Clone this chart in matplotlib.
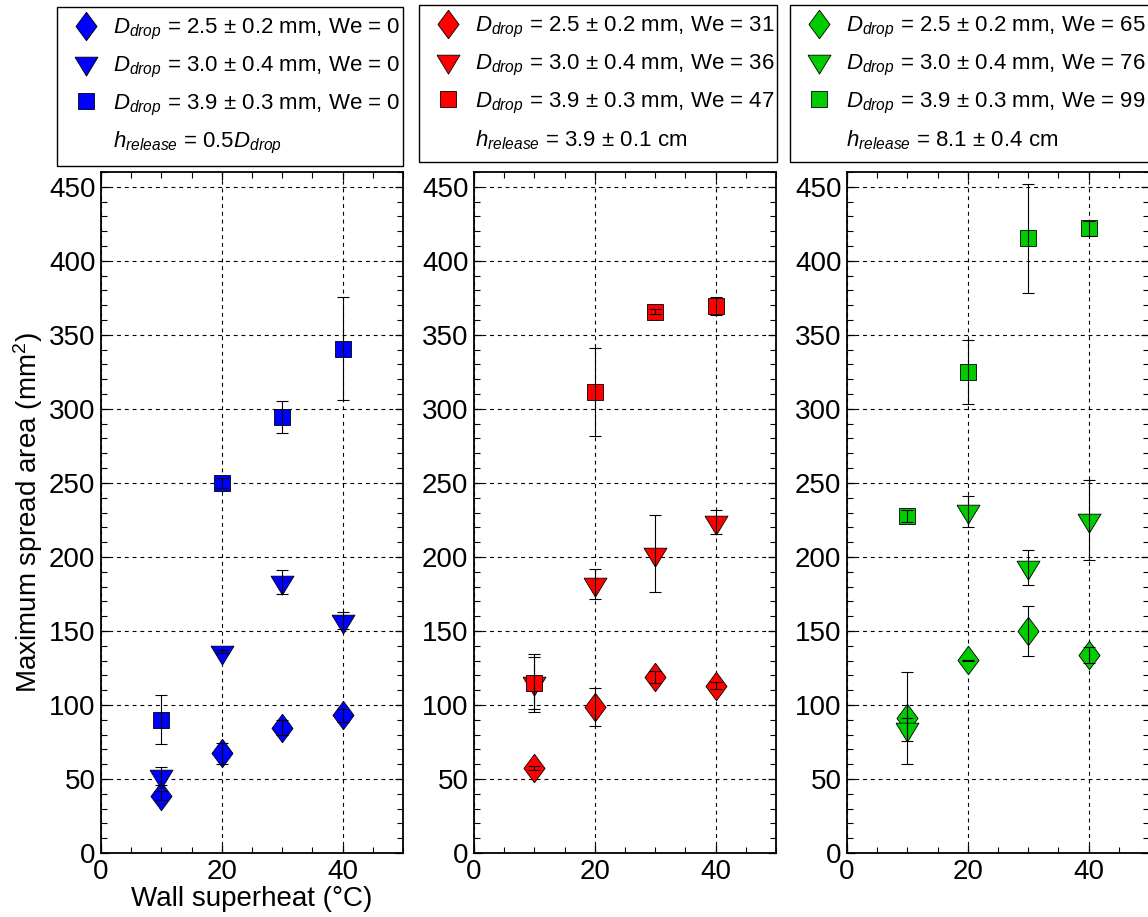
import matplotlib
matplotlib.use("Agg")
import matplotlib.pyplot as plt
from matplotlib.lines import Line2D
from matplotlib.ticker import MultipleLocator

plt.rcParams['font.family'] = ['Liberation Sans', 'DejaVu Sans']
plt.rcParams['mathtext.fontset'] = 'custom'
plt.rcParams['mathtext.rm'] = 'Liberation Sans'
plt.rcParams['mathtext.it'] = 'Liberation Sans:italic'
plt.rcParams['mathtext.bf'] = 'Liberation Sans:bold'

# ---------------- data ----------------
superheat = [10, 20, 30, 40]

# panel 1 (We = 0, blue)
blue_diamond = [38.7, 67.3, 84.6, 93.0]
blue_diamond_err = [3.0, 7.0, 5.0, 4.5]
blue_tri = [52.0, 136.0, 183.0, 157.0]
blue_tri_err = [6.0, 1.0, 8.0, 6.0]
blue_sq = [90.0, 250.0, 294.5, 340.7]
blue_sq_err = [16.4, 3.4, 10.7, 34.6]

# panel 2 (h = 3.9 cm, red)
red_diamond = [57.5, 98.7, 119.0, 112.9]
red_diamond_err = [1.2, 13.0, 4.0, 2.3]
red_tri = [115.0, 181.5, 202.0, 223.5]
red_tri_err = [19.5, 10.0, 26.0, 8.0]
red_sq = [115.0, 311.7, 365.7, 369.3]
red_sq_err = [17.7, 29.7, 1.9, 6.0]

# panel 3 (h = 8.1 cm, green)
green_diamond = [91.0, 130.2, 150.0, 133.6]
green_diamond_err = [31.0, 0.5, 17.0, 5.5]
green_tri = [83.5, 230.8, 193.0, 225.0]
green_tri_err = [8.0, 10.5, 12.0, 27.0]
green_sq = [227.4, 324.8, 415.2, 422.0]
green_sq_err = [4.0, 21.5, 37.0, 5.0]

labels_blue = [r'$D_{drop}$ = 2.5 ± 0.2 mm, We = 0',
               r'$D_{drop}$ = 3.0 ± 0.4 mm, We = 0',
               r'$D_{drop}$ = 3.9 ± 0.3 mm, We = 0',
               r'$h_{release}$ = 0.5$D_{drop}$']
labels_red = [r'$D_{drop}$ = 2.5 ± 0.2 mm, We = 31',
              r'$D_{drop}$ = 3.0 ± 0.4 mm, We = 36',
              r'$D_{drop}$ = 3.9 ± 0.3 mm, We = 47',
              r'$h_{release}$ = 3.9 ± 0.1 cm']
labels_green = [r'$D_{drop}$ = 2.5 ± 0.2 mm, We = 65',
                r'$D_{drop}$ = 3.0 ± 0.4 mm, We = 76',
                r'$D_{drop}$ = 3.9 ± 0.3 mm, We = 99',
                r'$h_{release}$ = 8.1 ± 0.4 cm']

BLUE = '#0000ff'
RED = '#ff0000'
GREEN = '#00cc00'

# ---------------- markers ----------------
DIAMOND = [(0, 1), (0.74, 0), (0, -1), (-0.74, 0), (0, 1)]
TRIANGLE = [(-1, 0.55), (1, 0.55), (0, -1.1), (-1, 0.55)]
MS_D, MS_T, MS_S = 20.5, 18.2, 11.8

W, H = 1148, 917
fig = plt.figure(figsize=(W / 100, H / 100), dpi=100)

ax_top, ax_bot = 172, 853
ax_w = 302
lefts = [101, 474, 847]
leg_boxes = [(57, 7, 346), (419, 5, 358), (790, 5, 372)]

panels = [
    (BLUE, (blue_diamond, blue_diamond_err), (blue_tri, blue_tri_err), (blue_sq, blue_sq_err), labels_blue),
    (RED, (red_diamond, red_diamond_err), (red_tri, red_tri_err), (red_sq, red_sq_err), labels_red),
    (GREEN, (green_diamond, green_diamond_err), (green_tri, green_tri_err), (green_sq, green_sq_err), labels_green),
]

FS = 20
for i, (color, dia, tri, sq, labels) in enumerate(panels):
    left = lefts[i]
    ax = fig.add_axes([left / W, 1 - ax_bot / H, ax_w / W, (ax_bot - ax_top) / H])
    ax.set_xlim(0, 50)
    ax.set_ylim(0, 460)
    ax.xaxis.set_major_locator(MultipleLocator(20))
    ax.xaxis.set_minor_locator(MultipleLocator(5))
    ax.yaxis.set_major_locator(MultipleLocator(50))
    ax.yaxis.set_minor_locator(MultipleLocator(10))
    ax.tick_params(which='both', direction='in', top=True, right=True, labelsize=FS, pad=4)
    ax.tick_params(which='major', length=6, width=0.9)
    ax.tick_params(which='minor', length=4, width=0.8)
    ax.grid(True, which='major', color='black', linestyle=(0, (3.5, 3.5)), linewidth=0.8)
    ax.set_axisbelow(True)
    for s in ax.spines.values():
        s.set_linewidth(1.3)

    for (vals, errs), mk, ms in ((dia, DIAMOND, MS_D), (tri, TRIANGLE, MS_T), (sq, 's', MS_S)):
        ax.plot(superheat, vals, linestyle='none', marker=mk, markersize=ms,
                markerfacecolor=color, markeredgecolor='black', markeredgewidth=0.6, zorder=3)
        ax.errorbar(superheat, vals, yerr=errs, fmt='none', ecolor='black',
                    elinewidth=0.8, capsize=4.5, capthick=0.8, zorder=4)

    handles = [
        Line2D([], [], linestyle='none', marker=DIAMOND, markersize=MS_D,
               markerfacecolor=color, markeredgecolor='black', markeredgewidth=0.6),
        Line2D([], [], linestyle='none', marker=TRIANGLE, markersize=MS_T,
               markerfacecolor=color, markeredgecolor='black', markeredgewidth=0.6),
        Line2D([], [], linestyle='none', marker='s', markersize=MS_S,
               markerfacecolor=color, markeredgecolor='black', markeredgewidth=0.6),
        Line2D([], [], linestyle='none', marker='none'),
    ]
    lx, ly, lw = leg_boxes[i]
    leg = ax.legend(handles, labels, loc='upper left',
                    bbox_to_anchor=(lx / W, 1 - (ly + 150) / H, lw / W, 150 / H),
                    bbox_transform=fig.transFigure, mode='expand', borderaxespad=0,
                    fontsize=16, frameon=True, fancybox=False, edgecolor='black',
                    framealpha=1, handlelength=1.7, handletextpad=0.35,
                    borderpad=0.45, labelspacing=0.57)
    leg.get_frame().set_linewidth(1.0)

    if i == 0:
        ax.set_xlabel('Wall superheat (°C)', fontsize=FS, labelpad=1)
        ax.set_ylabel('Maximum spread area (mm$^2$)', fontsize=FS, labelpad=3)

fig.savefig('out.png', dpi=100)
